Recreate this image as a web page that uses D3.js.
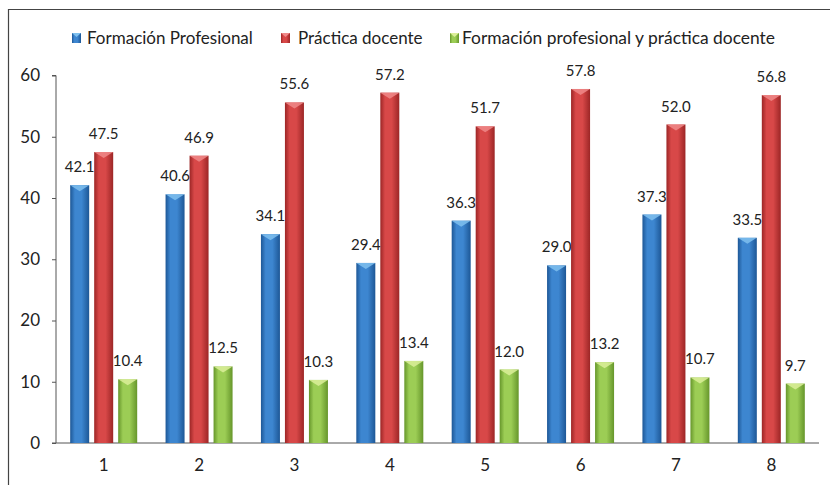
<!DOCTYPE html>
<html>
<head>
<meta charset="utf-8">
<script src="https://cdn.jsdelivr.net/npm/d3@7.9.0/dist/d3.min.js"></script>
<style>
  body { margin: 0; background: #fff; }
  svg text { font-family: Lato, "Open Sans", sans-serif; fill: #222; }
</style>
</head>
<body>
<svg id="chart" width="830" height="485"></svg>
<script>
const categories = ['1', '2', '3', '4', '5', '6', '7', '8'];
const seriesNames = ['Formación Profesional', 'Práctica docente', 'Formación profesional y práctica docente'];
const formacion = [42.1, 40.6, 34.1, 29.4, 36.3, 29.0, 37.3, 33.5];
const practica = [47.5, 46.9, 55.6, 57.2, 51.7, 57.8, 52.0, 56.8];
const ambas = [10.4, 12.5, 10.3, 13.4, 12.0, 13.2, 10.7, 9.7];
const yTicks = [0, 10, 20, 30, 40, 50, 60];

const series = [formacion, practica, ambas];
const palette = [
  { mid: '#3d86d0', edge: '#1d5796', cap: '#7fc0ee' },
  { mid: '#d84848', edge: '#9c2626', cap: '#f08a8a' },
  { mid: '#9ccd55', edge: '#66962b', cap: '#dcef9a' }
];

const svg = d3.select('#chart');

// outer frame (top and left lines)
svg.append('path')
  .attr('d', 'M8.5,485 L8.5,9.5 L830,9.5')
  .attr('fill', 'none')
  .attr('stroke', '#444')
  .attr('stroke-width', 1.2);

const x = d3.scaleBand().domain(categories).range([56, 819]).padding(0);
const y = d3.scaleLinear().domain([0, 60]).range([443, 75.5]);

const defs = svg.append('defs');
palette.forEach((c, i) => {
  const g = defs.append('linearGradient').attr('id', 'grad' + i)
    .attr('x1', '0%').attr('x2', '100%').attr('y1', '0%').attr('y2', '0%');
  g.append('stop').attr('offset', '0%').attr('stop-color', c.edge);
  g.append('stop').attr('offset', '25%').attr('stop-color', c.mid);
  g.append('stop').attr('offset', '60%').attr('stop-color', c.mid);
  g.append('stop').attr('offset', '100%').attr('stop-color', c.edge);
});

// y axis
const yAxis = svg.append('g')
  .attr('transform', 'translate(56,0)')
  .call(d3.axisLeft(y).tickValues(yTicks).tickSize(4).tickPadding(12).tickFormat(d3.format('d')));
yAxis.select('.domain').attr('stroke', '#555').attr('d', 'M-4,75.5H0V443');
yAxis.selectAll('.tick line').attr('stroke', '#555');
yAxis.selectAll('text').attr('font-size', 17).style('font-family', 'Lato, sans-serif').attr('fill', '#222');

// x axis
const xAxis = svg.append('g')
  .attr('transform', 'translate(0,443)')
  .call(d3.axisBottom(x).tickSize(0).tickPadding(16));
xAxis.select('.domain').attr('stroke', '#555').attr('d', 'M52,0H819');
xAxis.selectAll('text').attr('font-size', 17).style('font-family', 'Lato, sans-serif').attr('fill', '#222');

const barW = 19;
const step = 24;

series.forEach((vals, si) => {
  const g = svg.append('g');
  const c = palette[si];
  const cx = d => x(categories[d.i]) + x.bandwidth() / 2 + (si - 1) * step;
  const data = vals.map((v, i) => ({ v, i }));

  g.selectAll('rect.bar').data(data).join('rect')
    .attr('class', 'bar')
    .attr('x', d => cx(d) - barW / 2)
    .attr('y', d => y(d.v))
    .attr('width', barW)
    .attr('height', d => y(0) - y(d.v))
    .attr('fill', `url(#grad${si})`);

  // bevelled top highlight
  g.selectAll('path.cap').data(data).join('path')
    .attr('class', 'cap')
    .attr('d', d => {
      const l = cx(d) - barW / 2, r = cx(d) + barW / 2, t = y(d.v);
      return `M${l},${t}H${r}L${cx(d)},${t + 6}Z`;
    })
    .attr('fill', c.cap)
    .attr('opacity', 0.85);

  g.selectAll('text.val').data(data).join('text')
    .attr('class', 'val')
    .attr('x', d => cx(d))
    .attr('y', d => y(d.v) - 13)
    .attr('text-anchor', 'middle')
    .attr('font-size', 15)
    .text(d => d.v.toFixed(1));
});

// legend
const swatchX = [72, 281, 450];
const labelX = [87, 298, 462];
const legend = svg.append('g');
seriesNames.forEach((name, i) => {
  legend.append('rect')
    .attr('x', swatchX[i]).attr('y', 33).attr('width', 9).attr('height', 10)
    .attr('fill', `url(#grad${i})`);
  legend.append('path')
    .attr('d', `M${swatchX[i]},33h9l-4.5,4Z`)
    .attr('fill', palette[i].cap);
  legend.append('text')
    .attr('x', labelX[i]).attr('y', 44)
    .attr('font-size', i === 2 ? 17.4 : 17)
    .text(name);
});
</script>
</body>
</html>
